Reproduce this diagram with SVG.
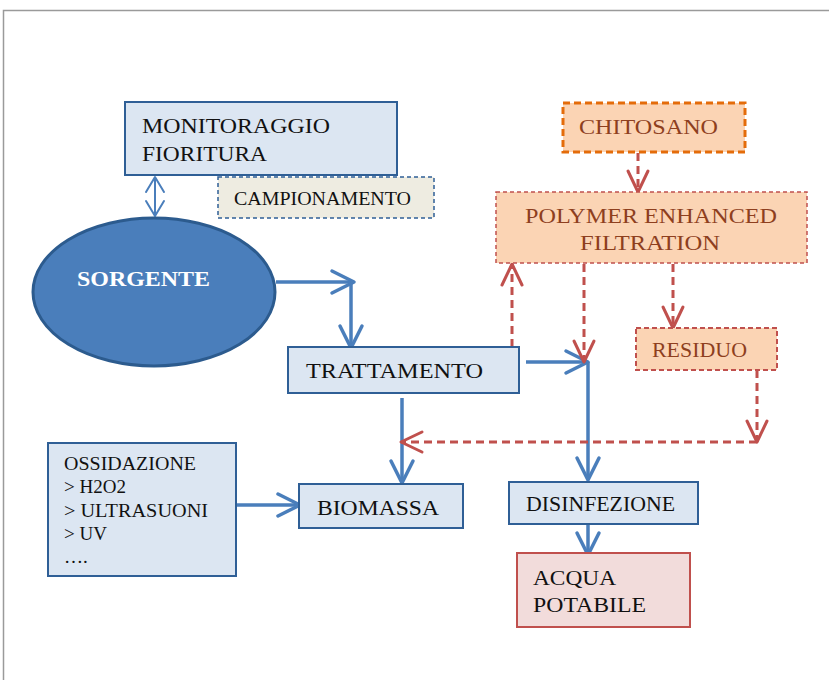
<svg xmlns="http://www.w3.org/2000/svg" width="829" height="680" viewBox="0 0 829 680">
<defs>
<style>
text{font-family:"Liberation Serif","Times New Roman",serif;fill:#111;}
.bx{fill:#dce6f2;stroke:#2f5f96;stroke-width:2;}
.blue{fill:none;stroke:#4a7ebb;stroke-width:3.5;}
.red{fill:none;stroke:#c0504d;stroke-width:3;stroke-dasharray:8,5;}
.br{fill:#8e3f1e;}
</style>
<marker id="ab" viewBox="-26 -14 30 28" markerWidth="30" markerHeight="28" refX="0" refY="0" orient="auto" markerUnits="userSpaceOnUse">
<path d="M-22,-11 L0,0 L-22,11" fill="none" stroke="#4a7ebb" stroke-width="3.5" stroke-linecap="round" stroke-linejoin="round"/>
</marker>
<marker id="abs" viewBox="-20 -12 24 24" markerWidth="24" markerHeight="24" refX="0" refY="0" orient="auto-start-reverse" markerUnits="userSpaceOnUse">
<path d="M-15,-9 L0,0 L-15,9" fill="none" stroke="#4a7ebb" stroke-width="2" stroke-linecap="round" stroke-linejoin="round"/>
</marker>
<marker id="ar" viewBox="-26 -14 30 28" markerWidth="30" markerHeight="28" refX="0" refY="0" orient="auto" markerUnits="userSpaceOnUse">
<path d="M-21,-10 L0,0 L-21,10" fill="none" stroke="#c0504d" stroke-width="3" stroke-linecap="round" stroke-linejoin="round"/>
</marker>
</defs>
<rect width="829" height="680" fill="#fff"/>
<path d="M3.5,680 V10.5 H829" fill="none" stroke="#9a9a9a" stroke-width="1.5"/>

<g id="connectors">
<path class="blue" d="M276,282 H354" marker-end="url(#ab)"/>
<path class="blue" d="M351,283 V348" marker-end="url(#ab)"/>
<path class="blue" d="M526,362 H588" marker-end="url(#ab)"/>
<path class="blue" d="M588,362 V480" marker-end="url(#ab)"/>
<path class="blue" d="M402,398 V483" marker-end="url(#ab)"/>
<path class="blue" d="M236,505 H300" marker-end="url(#ab)"/>
<path class="blue" d="M588,525 V555" marker-end="url(#ab)"/>
<path d="M155,177 V216" fill="none" stroke="#4a7ebb" stroke-width="2" marker-start="url(#abs)" marker-end="url(#abs)"/>
<path class="red" d="M638,153 V192" marker-end="url(#ar)"/>
<path class="red" d="M512,347 V264" marker-end="url(#ar)"/>
<path class="red" d="M584,264 V362" marker-end="url(#ar)"/>
<path class="red" d="M673,264 V328" marker-end="url(#ar)"/>
<path class="red" d="M757,370 V442" marker-end="url(#ar)"/>
<path class="red" d="M757,442 H401" marker-end="url(#ar)"/>
</g>

<g id="monitoraggio">
<rect class="bx" x="125" y="102" width="272" height="73"/>
<text x="142" y="133" font-size="22" textLength="188" lengthAdjust="spacingAndGlyphs">MONITORAGGIO</text>
<text x="142" y="161" font-size="22" textLength="125" lengthAdjust="spacingAndGlyphs">FIORITURA</text>
</g>
<g id="campionamento">
<rect x="218" y="177" width="216" height="41" fill="#eeece1" stroke="#2f5f96" stroke-width="1.5" stroke-dasharray="4,3"/>
<text x="234" y="205" font-size="18" textLength="177" lengthAdjust="spacingAndGlyphs">CAMPIONAMENTO</text>
</g>
<g id="sorgente">
<ellipse cx="154" cy="292" rx="121" ry="74" fill="#4a7ebb" stroke="#2c5b8e" stroke-width="3"/>
<text x="77" y="286" font-size="22" font-weight="bold" textLength="133" lengthAdjust="spacingAndGlyphs" style="fill:#fff">SORGENTE</text>
</g>
<g id="trattamento">
<rect class="bx" x="288" y="347" width="231" height="46"/>
<text x="306" y="378" font-size="22" textLength="177" lengthAdjust="spacingAndGlyphs">TRATTAMENTO</text>
</g>
<g id="biomassa">
<rect class="bx" x="299" y="484" width="164" height="44"/>
<text x="317" y="515" font-size="22" textLength="122" lengthAdjust="spacingAndGlyphs">BIOMASSA</text>
</g>
<g id="ossidazione">
<rect class="bx" x="48" y="443" width="188" height="133"/>
<text x="64" y="470" font-size="19" textLength="132" lengthAdjust="spacingAndGlyphs">OSSIDAZIONE</text>
<text x="64" y="493" font-size="19">&gt; H2O2</text>
<text x="64" y="517" font-size="19" textLength="144" lengthAdjust="spacingAndGlyphs">&gt; ULTRASUONI</text>
<text x="64" y="540" font-size="19">&gt; UV</text>
<text x="64" y="563" font-size="19">….</text>
</g>
<g id="disinfezione">
<rect class="bx" x="509" y="482" width="189" height="42"/>
<text x="526" y="511" font-size="21" textLength="149" lengthAdjust="spacingAndGlyphs">DISINFEZIONE</text>
</g>
<g id="acqua">
<rect x="517" y="553" width="173" height="74" fill="#f2dcdb" stroke="#c0504d" stroke-width="2"/>
<text x="533" y="585" font-size="22" textLength="83" lengthAdjust="spacingAndGlyphs">ACQUA</text>
<text x="533" y="612" font-size="22" textLength="113" lengthAdjust="spacingAndGlyphs">POTABILE</text>
</g>
<g id="chitosano">
<rect x="563" y="103" width="182" height="49" fill="#fbd4b4" stroke="#e46c0a" stroke-width="3" stroke-dasharray="7,4"/>
<text class="br" x="579" y="134" font-size="22" textLength="139" lengthAdjust="spacingAndGlyphs">CHITOSANO</text>
</g>
<g id="pef">
<rect x="496" y="192" width="311" height="71" fill="#fbd4b4" stroke="#c0504d" stroke-width="1.5" stroke-dasharray="4,3"/>
<text class="br" x="525" y="223" font-size="22" textLength="252" lengthAdjust="spacingAndGlyphs">POLYMER ENHANCED</text>
<text class="br" x="580" y="250" font-size="22" textLength="140" lengthAdjust="spacingAndGlyphs">FILTRATION</text>
</g>
<g id="residuo">
<rect x="636" y="328" width="141" height="42" fill="#fbd4b4" stroke="#c0504d" stroke-width="2" stroke-dasharray="5,3"/>
<text class="br" x="652" y="357" font-size="21" textLength="95" lengthAdjust="spacingAndGlyphs">RESIDUO</text>
</g>
</svg>
